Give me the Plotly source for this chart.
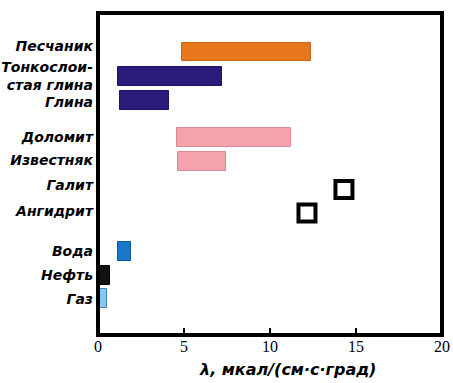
import plotly.graph_objects as go

# Thermal conductivity ranges of rocks and fluids, λ in mcal/(cm·s·deg)
labels = ["Песчаник", "Тонкослои-", "стая глина", "Глина", "Доломит", "Известняк",
          "Галит", "Ангидрит", "Вода", "Нефть", "Газ"]
label_rows = [-0.25, 0.66, 1.4, 2.15, 3.6, 4.6, 5.65, 6.75, 8.45, 9.5, 10.5]

# row centre of each material
rows = [0, 1.05, 2.05, 3.65, 4.65, 5.85, 6.85, 8.5, 9.5, 10.5]

# range bars: row index, low, high, colour
bar_idx = [0, 1, 2, 3, 4, 7, 8, 9]
bar_lo = [4.9, 1.15, 1.3, 4.6, 4.65, 1.15, 0.0, 0.1]
bar_hi = [12.4, 7.2, 4.1, 11.2, 7.45, 1.9, 0.7, 0.5]
bar_colors = ["#E8761C", "#2A1A7A", "#2A1A7A", "#F4A2AC", "#F4A2AC",
              "#1A76C6", "#111111", "#8CC6EE"]
bar_lines = ["#C9661A", "#1E1260", "#1E1260", "#D98A94", "#D98A94",
             "#0F5A9E", "#000000", "#3A86C0"]

# single-value minerals: row index, value
pt_idx = [5, 6]
pt_val = [14.3, 12.15]

x_ticks = [0, 5, 10, 15, 20]
x_title = "λ, мкал/(см·с·град)"

fig = go.Figure()
fig.add_trace(go.Bar(
    orientation="h",
    y=[rows[i] for i in bar_idx],
    base=bar_lo,
    x=[h - l for l, h in zip(bar_lo, bar_hi)],
    width=0.8,
    marker=dict(color=bar_colors, line=dict(color=bar_lines, width=1)),
    showlegend=False,
))
fig.add_trace(go.Scatter(
    x=pt_val,
    y=[rows[i] for i in pt_idx],
    mode="markers",
    marker=dict(symbol="square-open", size=17, color="black", line=dict(width=4, color="black")),
    showlegend=False,
))

fig.update_xaxes(
    range=[0, 20], tickvals=x_ticks, ticktext=[str(v) for v in x_ticks],
    ticks="inside", ticklen=7, tickwidth=2, tickcolor="black",
    showgrid=False, zeroline=False, automargin=False,
    tickfont=dict(family="Liberation Serif", size=16, color="black"),
)
fig.update_yaxes(
    range=[12.04, -1.66], tickvals=label_rows, ticktext=labels,
    showgrid=False, zeroline=False, ticks="", ticklabelstandoff=4, automargin=False,
    tickfont=dict(family="DejaVu Sans", size=14, color="black",
                  style="italic", weight="bold"),
)

fig.add_annotation(
    text=x_title, xref="x", yref="paper", x=11.0, y=0, yshift=-34,
    showarrow=False, yanchor="middle", xanchor="center",
    font=dict(family="DejaVu Sans", size=16, color="black", style="italic", weight="bold"),
)

# heavy frame around the plotting area
fig.add_shape(type="rect", xref="paper", yref="paper", x0=0, y0=0, x1=1, y1=1,
              line=dict(color="black", width=4))

fig.update_layout(
    width=453, height=383,
    margin=dict(l=98, r=11, t=13, b=48),
    paper_bgcolor="white", plot_bgcolor="white",
    bargap=0,
)

fig.write_html("out.html")
